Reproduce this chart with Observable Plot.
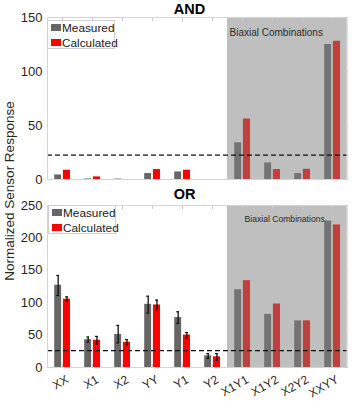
<!DOCTYPE html>
<html>
<head>
<meta charset="utf-8">
<script src="https://cdn.jsdelivr.net/npm/d3@7"></script>
<script src="https://cdn.jsdelivr.net/npm/@observablehq/plot@0.6"></script>
<style>
  html, body { margin: 0; padding: 0; background: #fff; }
  #wrap { position: relative; width: 354px; height: 401px; font-family: "Liberation Sans", Arial, sans-serif; color: #262626; overflow: hidden; }
  .abs { position: absolute; }
  .title { font-weight: bold; font-size: 14.5px; color: #000; transform: translate(-50%, -50%); white-space: nowrap; }
  .legend { background: #fff; border: 1px solid #cfcfcf; box-sizing: border-box; }
  .sw { position: absolute; width: 10px; height: 7px; }
  .lt { position: absolute; font-size: 11.8px; line-height: 12px; color: #1a1a1a; white-space: nowrap; }
  #ylab { font-size: 13.5px; white-space: nowrap; transform: translate(-50%, -50%) rotate(-90deg); }
</style>
</head>
<body>
<div id="wrap"></div>
<script>
// ---- data ----
const categories = ["XX", "X1", "X2", "YY", "Y1", "Y2", "X1Y1", "X1Y2", "X2Y2", "XXYY"];
const biaxial = ["X1Y1", "X1Y2", "X2Y2", "XXYY"];
const seriesNames = ["Measured", "Calculated"];
const seriesColors = ["#666666", "#ff0000"];

const andMeasured   = [4.2, 0.5, 0.4, 5.5, 7.0, 0, 34, 15.3, 5.5, 125];
const andCalculated = [8.6, 2.4, 0, 9.2, 8.6, 0, 56, 9.2, 9.5, 128];
const andThreshold = 22.5;
const andTicks = [0, 50, 100, 150];

const orMeasured   = [127, 43, 51, 97.5, 77, 18, 120, 82, 72, 226];
const orCalculated = [105.5, 42, 39, 96.5, 50, 16.5, 134, 98, 72, 220];
const orMeasuredLo   = [111, 39, 38, 84, 68, 14];
const orMeasuredHi   = [142, 47, 65, 110, 86, 21.5];
const orCalculatedLo = [102.5, 36, 35, 89, 45.5, 11];
const orCalculatedHi = [109, 48, 43, 104, 54, 21.5];
const orThreshold = 26;
const orTicks = [0, 50, 100, 150, 200, 250];

const regionLabel = "Biaxial Combinations";
const yLabel = "Normalized Sensor Response";

// ---- chart ----
const W = 354;
const XRANGE = [45.5, 349.2];
const STEP = (XRANGE[1] - XRANGE[0]) / categories.length;
const mIn = [7.2, STEP - 14.5];   // measured bar insets (left, right)
const cIn = [15.9, STEP - 23.4];  // calculated bar insets
const mDx = (mIn[0] + (STEP - mIn[1])) / 2 - STEP / 2;
const cDx = (cIn[0] + (STEP - cIn[1])) / 2 - STEP / 2;

function grayRegion(index, scales, values, dims) {
  const x0 = scales.x(biaxial[0]);
  const x1 = dims.width - dims.marginRight;
  return d3.create("svg:rect")
    .attr("x", x0).attr("y", dims.marginTop)
    .attr("width", x1 - x0)
    .attr("height", dims.height - dims.marginTop - dims.marginBottom)
    .attr("fill", "#808080").attr("fill-opacity", 0.5).node();
}

function panel(opts) {
  const rows = categories.map((c, i) => ({cat: c, m: opts.measured[i], c: opts.calculated[i]}));
  const errM = (opts.mLo || []).map((lo, i) => ({cat: categories[i], lo, hi: opts.mHi[i]}));
  const errC = (opts.cLo || []).map((lo, i) => ({cat: categories[i], lo, hi: opts.cHi[i]}));
  const yMax = opts.ticks[opts.ticks.length - 1];
  const marks = [
    Plot.barY(rows, {x: "cat", y: "m", fill: seriesColors[0], insetLeft: mIn[0], insetRight: mIn[1]}),
    Plot.barY(rows, {x: "cat", y: "c", fill: seriesColors[1], insetLeft: cIn[0], insetRight: cIn[1]}),
    Plot.ruleX(errM, {x: "cat", y1: "lo", y2: "hi", dx: mDx, stroke: "#111", strokeWidth: 1.3}),
    Plot.tickY(errM, {x: "cat", y: "lo", insetLeft: STEP/2 + mDx - 1.6, insetRight: STEP/2 - mDx - 1.6, stroke: "#111", strokeWidth: 1.2}),
    Plot.tickY(errM, {x: "cat", y: "hi", insetLeft: STEP/2 + mDx - 1.6, insetRight: STEP/2 - mDx - 1.6, stroke: "#111", strokeWidth: 1.2}),
    Plot.ruleX(errC, {x: "cat", y1: "lo", y2: "hi", dx: cDx, stroke: "#111", strokeWidth: 1.3}),
    Plot.tickY(errC, {x: "cat", y: "lo", insetLeft: STEP/2 + cDx - 1.6, insetRight: STEP/2 - cDx - 1.6, stroke: "#111", strokeWidth: 1.2}),
    Plot.tickY(errC, {x: "cat", y: "hi", insetLeft: STEP/2 + cDx - 1.6, insetRight: STEP/2 - cDx - 1.6, stroke: "#111", strokeWidth: 1.2}),
    grayRegion,
    Plot.ruleY([opts.threshold], {stroke: "#111", strokeWidth: 1.3, strokeDasharray: "5,3"}),
    Plot.text([regionLabel], {x: () => biaxial[0], text: d => d, frameAnchor: "top", textAnchor: "start",
      dx: opts.labelDx, dy: opts.labelDy, fontSize: opts.labelSize, fill: "#2a2a2a"}),
    Plot.frame({stroke: "#d4d4d4"}),
    Plot.axisY({ticks: opts.ticks, tickSize: 0, tickPadding: 5, fontSize: 13, label: null}),
    Plot.axisY({anchor: "right", ticks: opts.ticks, tickSize: -3, tickFormat: () => "", stroke: "#c8c8c8", label: null}),
    Plot.axisX({anchor: "top", tickSize: -3, tickFormat: () => "", stroke: "#c8c8c8", label: null})
  ];
  if (opts.xLabels) {
    marks.push(Plot.axisX({anchor: "bottom", tickSize: 0, tickRotate: -30, tickPadding: 11, fontSize: 12, dx: 5, label: null}));
    marks.push(Plot.axisX({anchor: "bottom", tickSize: -3, tickFormat: () => "", stroke: "#c8c8c8", label: null}));
  }
  return Plot.plot({
    width: W, height: opts.height,
    marginLeft: 47, marginRight: 7.3, marginTop: opts.marginTop, marginBottom: opts.marginBottom,
    style: {fontFamily: "'Liberation Sans', Arial, sans-serif", color: "#262626", background: "transparent", overflow: "visible"},
    x: {type: "band", domain: categories, range: XRANGE, padding: 0, axis: null},
    y: {domain: [0, yMax], axis: null},
    marks
  });
}

const wrap = document.getElementById("wrap");
function place(el, left, topPx) { el.style.position = "absolute"; el.style.left = left + "px"; el.style.top = topPx + "px"; wrap.appendChild(el); return el; }

const andChart = panel({measured: andMeasured, calculated: andCalculated, threshold: andThreshold, ticks: andTicks,
  height: 190, marginTop: 17, marginBottom: 11, labelDx: -13, labelDy: 11, labelSize: 10});
place(andChart, 0, 0);
const orChart = panel({measured: orMeasured, calculated: orCalculated, threshold: orThreshold, ticks: orTicks,
  mLo: orMeasuredLo, mHi: orMeasuredHi, cLo: orCalculatedLo, cHi: orCalculatedHi,
  height: 211, marginTop: 15, marginBottom: 34, labelDx: 2, labelDy: 10.7, labelSize: 8.6, xLabels: true});
place(orChart, 0, 190);

function title(text, x, y) { const d = document.createElement("div"); d.className = "abs title"; d.textContent = text; place(d, x, y); }
title("AND", 189.5, 8.5);
title("OR", 184.5, 193.5);

function legend(left, topY) {
  const box = document.createElement("div");
  box.className = "abs legend";
  box.style.width = "68px"; box.style.height = "29px";
  place(box, left, topY);
  seriesNames.forEach((name, i) => {
    const sw = document.createElement("div"); sw.className = "sw"; sw.style.background = seriesColors[i];
    sw.style.left = "3px"; sw.style.top = (3 + i * 15) + "px"; box.appendChild(sw);
    const t = document.createElement("div"); t.className = "lt"; t.textContent = name;
    t.style.left = "14px"; t.style.top = (0.5 + i * 15) + "px"; box.appendChild(t);
  });
}
legend(47, 20);
legend(48, 205);

const yl = document.createElement("div"); yl.id = "ylab"; yl.className = "abs"; yl.textContent = yLabel;
place(yl, 8.5, 191);
</script>
</body>
</html>
